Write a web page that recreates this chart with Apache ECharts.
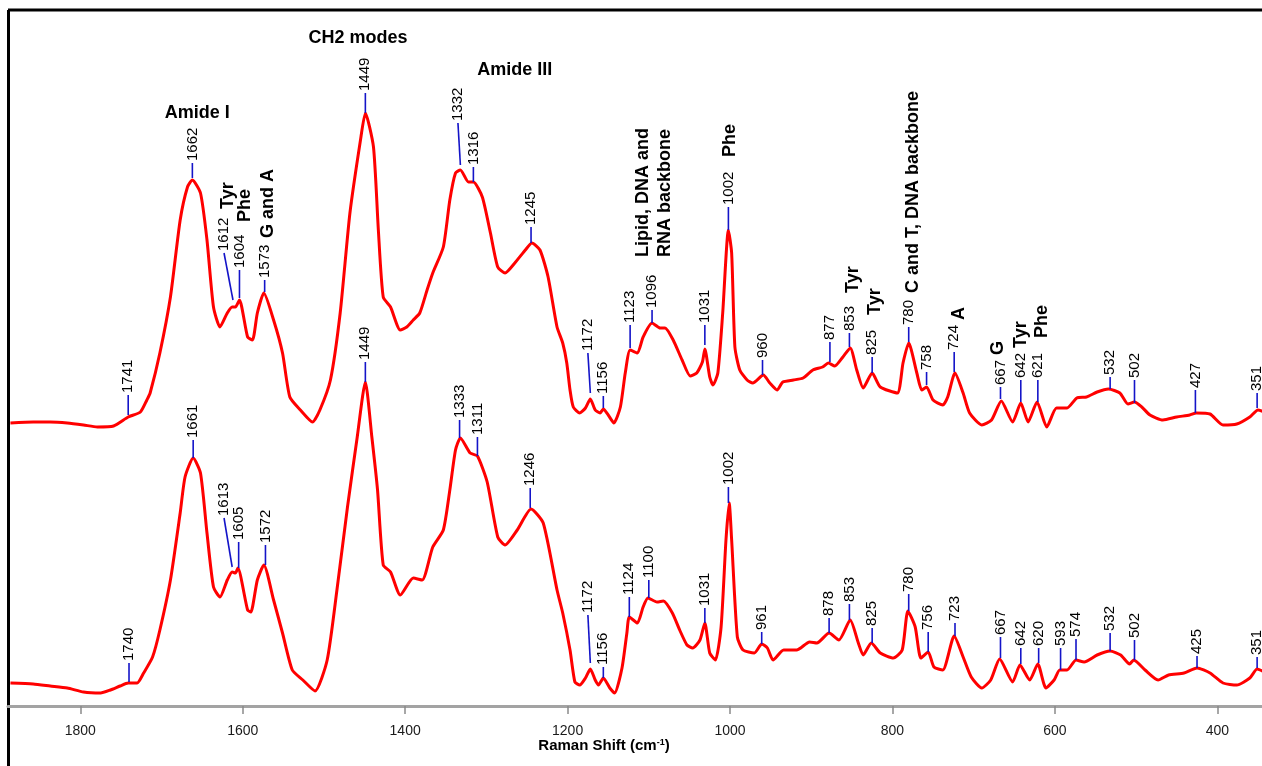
<!DOCTYPE html>
<html>
<head>
<meta charset="utf-8">
<title>Raman spectra</title>
<script src="https://cdn.jsdelivr.net/npm/echarts@6/dist/echarts.min.js"></script>
<style>
  html, body { margin: 0; padding: 0; background: #fff; }
  #chart { width: 1262px; height: 766px; }
</style>
</head>
<body>
<div id="chart"></div>
<script>
// upper spectrum (offset upwards)
const upperShift = [1886, 1858, 1837, 1816, 1796, 1779, 1759, 1741, 1726, 1718, 1714, 1702, 1689, 1677, 1668, 1662, 1652, 1644, 1636, 1628,
  1619, 1613, 1609, 1604, 1594, 1588, 1582, 1574, 1562, 1551, 1542, 1529, 1514, 1505, 1492, 1480, 1468, 1455, 1449, 1439,
  1433, 1427, 1418, 1406, 1398, 1390, 1382, 1373, 1366, 1353, 1345, 1338, 1332, 1322, 1316, 1305, 1295, 1286, 1277, 1265,
  1252, 1244, 1234, 1224, 1213, 1206, 1201, 1197, 1193, 1185, 1178, 1172, 1166, 1160, 1156, 1150, 1143, 1135, 1129, 1123,
  1114, 1107, 1096, 1086, 1080, 1070, 1059, 1049, 1041, 1034, 1031, 1025, 1021, 1015, 1009, 1002, 998, 994, 988, 979,
  972, 959, 951, 942, 935, 922, 910, 898, 886, 879, 871, 861, 852, 844, 836, 825, 815, 794, 787, 780,
  770, 764, 758, 750, 738, 732, 723, 713, 705, 690, 678, 666, 652, 642, 633, 622, 610, 598, 585, 573,
  561, 548, 534, 520, 510, 502, 493, 483, 467, 450, 434, 426, 409, 393, 376, 360, 350, 342];
const upperIntensity = [283, 284, 284, 283, 281, 279, 280, 289, 294, 306, 313, 353, 409, 486, 519, 526, 513, 466, 399, 379,
  393, 399, 399, 406, 369, 366, 393, 413, 386, 353, 309, 296, 284, 296, 326, 393, 493, 566, 593, 559,
  476, 409, 399, 376, 379, 386, 393, 416, 433, 459, 506, 533, 536, 524, 524, 509, 473, 439, 433, 443,
  456, 463, 456, 429, 379, 363, 343, 316, 299, 293, 298, 307, 296, 293, 297, 291, 283, 299, 333, 356,
  353, 369, 383, 378, 378, 366, 346, 330, 333, 344, 357, 329, 321, 333, 393, 476, 453, 359, 336, 326,
  323, 331, 323, 316, 324, 326, 328, 336, 339, 343, 340, 349, 358, 336, 318, 333, 319, 313, 343, 363,
  333, 316, 319, 306, 301, 309, 333, 313, 293, 281, 286, 305, 284, 303, 284, 304, 279, 298, 298, 308,
  309, 314, 317, 313, 302, 304, 299, 291, 286, 289, 291, 293, 292, 281, 282, 289, 296, 294];

// lower spectrum
const lowerShift = [1886, 1858, 1837, 1816, 1796, 1775, 1763, 1751, 1741, 1730, 1722, 1711, 1702, 1689, 1677, 1671, 1661, 1652, 1644, 1636,
  1628, 1619, 1613, 1609, 1606, 1594, 1590, 1582, 1574, 1562, 1551, 1539, 1526, 1511, 1496, 1484, 1471, 1459, 1449, 1441,
  1434, 1427, 1418, 1406, 1390, 1379, 1366, 1353, 1345, 1338, 1332, 1320, 1311, 1299, 1286, 1277, 1262, 1245, 1230, 1213,
  1206, 1197, 1191, 1185, 1178, 1172, 1166, 1162, 1156, 1148, 1142, 1133, 1127, 1124, 1114, 1107, 1101, 1090, 1082, 1071,
  1062, 1053, 1046, 1037, 1031, 1025, 1018, 1011, 1005, 1001, 998, 991, 984, 970, 961, 954, 947, 934, 918, 902,
  893, 878, 866, 852, 842, 836, 826, 815, 799, 788, 781, 772, 765, 756, 749, 738, 724, 713, 703, 690,
  679, 668, 652, 643, 631, 621, 611, 601, 594, 585, 574, 564, 548, 532, 519, 508, 503, 489, 473, 460,
  441, 425, 409, 393, 376, 360, 351, 342];
const lowerIntensity = [23, 22, 20, 18, 14, 13, 16, 20, 23, 23, 33, 49, 76, 126, 193, 229, 248, 233, 173, 119,
  109, 126, 134, 133, 138, 96, 94, 126, 141, 106, 73, 36, 26, 15, 46, 116, 199, 269, 324, 269,
  216, 141, 134, 111, 128, 126, 159, 176, 216, 256, 268, 253, 250, 224, 169, 161, 176, 197, 183, 116,
  93, 56, 24, 21, 28, 37, 26, 21, 28, 18, 13, 38, 73, 89, 83, 99, 108, 104, 105, 93,
  76, 61, 58, 66, 83, 53, 46, 79, 166, 203, 166, 69, 56, 53, 62, 58, 46, 56, 56, 64,
  63, 73, 66, 86, 63, 51, 63, 53, 48, 56, 95, 79, 48, 54, 39, 36, 70, 49, 29, 18,
  26, 47, 24, 41, 26, 42, 18, 26, 36, 36, 46, 44, 51, 55, 51, 42, 46, 36, 26, 31,
  33, 38, 33, 23, 21, 28, 37, 34];

// peak labels: position, line foot, line tip, tip shift (cm-1)
const upperPeaks = [1741, 1662, 1612, 1604, 1573, 1449, 1332, 1316, 1245, 1172, 1156, 1123, 1096, 1031, 1002,
  960, 877, 853, 825, 780, 758, 724, 667, 642, 621, 532, 502, 427, 351];
const upperPeakFoot = [291, 528, 406, 408, 414, 593, 541, 524, 463, 313, 298, 358, 383, 361, 476,
  331, 344, 359, 333, 364, 321, 334, 307, 304, 304, 317, 303, 293, 298];
const upperPeakTip = [311, 543, 453, 436, 426, 613, 583, 539, 479, 353, 310, 381, 396, 381, 499,
  346, 364, 373, 349, 379, 334, 354, 319, 326, 326, 329, 326, 316, 313];
const upperTipShift = [0, 0, 11, 0, 0, 0, 3, 0, 0, 3, 0, 0, 0, 0, 0,
  0, 0, 0, 0, 0, 0, 0, 0, 0, 0, 0, 0, 0, 0];

const lowerPeaks = [1740, 1661, 1613, 1605, 1572, 1449, 1333, 1311, 1246, 1172, 1156, 1124, 1100, 1031, 1002,
  961, 878, 853, 825, 780, 756, 723, 667, 642, 620, 593, 574, 532, 502, 425, 351];
const lowerPeakFoot = [24, 248, 139, 138, 141, 324, 268, 250, 198, 43, 28, 89, 108, 83, 203,
  62, 73, 86, 63, 95, 54, 70, 48, 42, 43, 36, 46, 55, 46, 38, 38];
const lowerPeakTip = [43, 266, 188, 164, 161, 344, 286, 269, 218, 91, 39, 109, 126, 98, 219,
  74, 88, 102, 78, 112, 74, 83, 69, 58, 58, 58, 67, 73, 66, 50, 49];
const lowerTipShift = [0, 0, 10, 0, 0, 0, 0, 0, 0, 3, 0, 0, 0, 0, 0,
  0, 0, 0, 0, 0, 0, 0, 0, 0, 0, 0, 0, 0, 0, 0, 0];

// band assignments
const bandNames = ['Amide I', 'CH2 modes', 'Amide III', 'Tyr', 'Phe', 'G and A', 'Lipid, DNA and', 'RNA backbone',
  'Phe', 'Tyr', 'Tyr', 'C and T, DNA backbone', 'A', 'G', 'Tyr', 'Phe'];
const bandShift = [1656, 1458, 1265, 1618, 1597, 1569, 1107, 1080, 1000, 849, 822, 775, 718, 670, 642, 616];
const bandLevel = [593, 668, 636, 497, 484, 468, 449, 449, 549, 413, 391, 413, 386, 351, 358, 368];
const bandVertical = [false, false, false, true, true, true, true, true, true, true, true, true, true, true, true, true];

const tickValues = [400, 600, 800, 1000, 1200, 1400, 1600, 1800];

const FONT = '"Liberation Sans", Arial, sans-serif';

function zip(a, b) {
  return a.map((v, i) => [v, b[i]]);
}

function peakData(peaks, foot, tip, shift) {
  return peaks.map((p, i) => [p, foot[i], tip[i], p + shift[i]]);
}

// blue tick from the peak up, number written vertically above it
function peakRenderer(peaks) {
  return function (params, api) {
    const a = api.coord([api.value(0), api.value(1)]);
    const b = api.coord([api.value(3), api.value(2)]);
    return {
      type: 'group',
      children: [
        {
          type: 'line',
          shape: { x1: a[0], y1: a[1], x2: b[0], y2: b[1] },
          style: { stroke: '#1414c8', lineWidth: 1.6 }
        },
        {
          type: 'text',
          x: b[0],
          y: b[1] - 2,
          rotation: Math.PI / 2,
          style: {
            text: String(peaks[params.dataIndex]),
            align: 'left',
            verticalAlign: 'middle',
            font: '15px ' + FONT,
            fill: '#000'
          }
        }
      ]
    };
  };
}

function bandRenderer(params, api) {
  const p = api.coord([api.value(0), api.value(1)]);
  const vertical = bandVertical[params.dataIndex];
  return {
    type: 'text',
    x: p[0],
    y: p[1],
    rotation: vertical ? Math.PI / 2 : 0,
    style: {
      text: bandNames[params.dataIndex],
      align: vertical ? 'left' : 'center',
      verticalAlign: 'middle',
      font: 'bold 18px ' + FONT,
      fill: '#000'
    }
  };
}

const chart = echarts.init(document.getElementById('chart'));

const option = {
  animation: false,
  grid: { left: 8, right: 0, top: 10, bottom: 60 },
  xAxis: {
    type: 'value',
    inverse: true,
    min: 345,
    max: 1889,
    splitLine: { show: false },
    axisLine: { lineStyle: { color: '#a3a3a3', width: 3 } },
    axisTick: {
      customValues: tickValues,
      length: 8,
      lineStyle: { color: '#8a8a8a', width: 1.5 }
    },
    axisLabel: {
      customValues: tickValues,
      formatter: v => String(v),
      margin: 18,
      fontSize: 14,
      fontFamily: FONT,
      color: '#1a1a1a'
    }
  },
  yAxis: {
    type: 'value',
    min: 0,
    max: 696,
    show: false
  },
  graphic: [
    { type: 'line', shape: { x1: 8, y1: 10, x2: 1262, y2: 10 }, style: { stroke: '#000', lineWidth: 3 } },
    { type: 'line', shape: { x1: 8.5, y1: 10, x2: 8.5, y2: 766 }, style: { stroke: '#000', lineWidth: 3 } },
    {
      type: 'text',
      x: 604,
      y: 746,
      style: {
        text: 'Raman Shift (cm{sup|-1})',
        align: 'center',
        verticalAlign: 'middle',
        font: 'bold 15px ' + FONT,
        fill: '#000',
        rich: {
          sup: { fontSize: 9, fontWeight: 'bold', fontFamily: FONT, verticalAlign: 'top', padding: [0, 0, 7, 0] }
        }
      }
    }
  ],
  series: [
    {
      type: 'line',
      data: zip(upperShift, upperIntensity),
      showSymbol: false,
      smooth: 0.2,
      lineStyle: { color: '#ff0000', width: 3 }
    },
    {
      type: 'line',
      data: zip(lowerShift, lowerIntensity),
      showSymbol: false,
      smooth: 0.2,
      lineStyle: { color: '#ff0000', width: 3 }
    },
    {
      type: 'custom',
      renderItem: peakRenderer(upperPeaks),
      encode: { x: [0, 3], y: [1, 2] },
      data: peakData(upperPeaks, upperPeakFoot, upperPeakTip, upperTipShift),
      z: 5
    },
    {
      type: 'custom',
      renderItem: peakRenderer(lowerPeaks),
      encode: { x: [0, 3], y: [1, 2] },
      data: peakData(lowerPeaks, lowerPeakFoot, lowerPeakTip, lowerTipShift),
      z: 5
    },
    {
      type: 'custom',
      renderItem: bandRenderer,
      encode: { x: 0, y: 1 },
      data: zip(bandShift, bandLevel),
      z: 5
    }
  ]
};

chart.setOption(option);
</script>
</body>
</html>
